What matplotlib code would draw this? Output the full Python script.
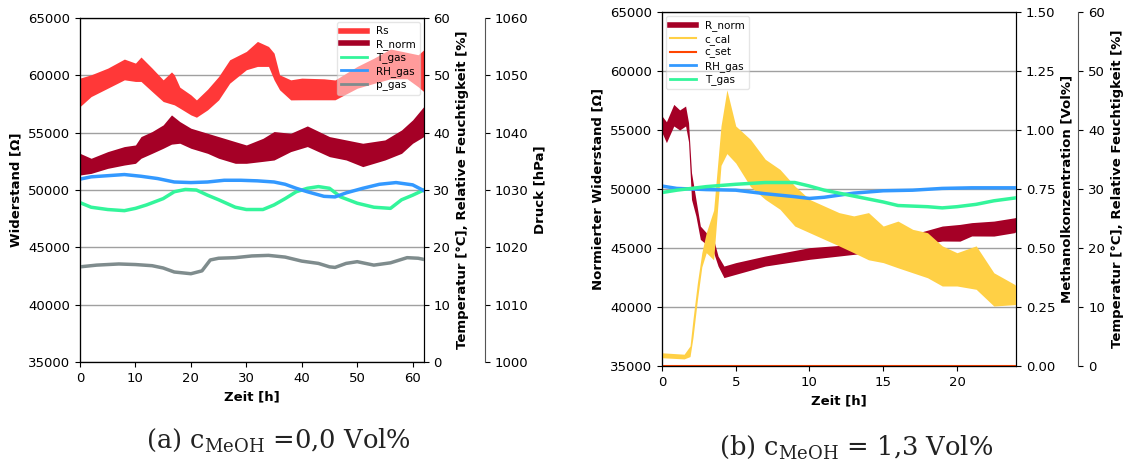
import matplotlib
matplotlib.use("Agg")
import matplotlib.pyplot as plt
from matplotlib.lines import Line2D

# ---- (a) c_MeOH = 0,0 Vol% ----
t_rs = [0, 2, 5, 8, 10, 11, 13, 15, 16.5, 17, 18, 20, 21, 23, 25, 27, 30, 32, 34, 35, 36, 38, 40, 44, 46, 50, 53, 56, 59, 61, 62]
rs_hi = [59760, 60050, 60630, 61420, 61070, 61600, 60630, 59610, 60300, 60050, 58970, 58300, 57860, 58790, 59900, 61360,
         62090, 62960, 62520, 61940, 60050, 59610, 59760, 59700, 59600, 60780, 61500, 62300, 62000, 61800, 62230]
rs_lo = [57280, 58150, 58880, 59610, 59470, 59470, 58590, 57720, 57500, 57430, 57140, 56550, 56350, 56990, 57860, 59320,
         60490, 60780, 60780, 59610, 58740, 57860, 57870, 57870, 57870, 58880, 59300, 59700, 59700, 59000, 58590]

t_rn_a = [0, 2, 5, 8, 10, 11, 13, 15, 16.5, 18, 20, 23, 25, 28, 30, 33, 35, 38, 41, 45, 48, 51, 55, 58, 60, 62]
rn_a_hi = [53200, 52770, 53350, 53790, 53930, 54660, 55100, 55680, 56550, 55970, 55390, 54950, 54660, 54220, 53930,
           54510, 55100, 54950, 55590, 54660, 54370, 54080, 54370, 55240, 56120, 57280]
rn_a_lo = [51310, 51450, 51890, 52180, 52330, 52770, 53200, 53640, 54000, 54080, 53640, 53200, 52770, 52330, 52330,
           52500, 52620, 53350, 53790, 52910, 52620, 52040, 52620, 53200, 54080, 54660]

t_tg_a = [0, 2, 5, 8, 10, 12, 15, 17, 19, 21, 23, 25, 28, 30, 33, 35, 37, 39, 41, 43, 45, 47, 50, 53, 56, 58, 60, 62]
tgas_a = [27.8, 27.0, 26.6, 26.4, 26.8, 27.4, 28.5, 29.7, 30.1, 30.0, 29.1, 28.3, 27.0, 26.6, 26.6, 27.4, 28.5, 29.7,
          30.3, 30.6, 30.3, 28.8, 27.7, 27.0, 26.8, 28.3, 29.1, 30.0]

t_rh_a = [0, 2, 5, 8, 11, 14, 17, 20, 23, 26, 29, 32, 35, 37, 39, 41, 44, 46, 48, 51, 54, 57, 60, 62]
rh_a = [31.9, 32.3, 32.5, 32.7, 32.4, 32.0, 31.4, 31.3, 31.4, 31.7, 31.7, 31.6, 31.4, 31.0, 30.3, 29.7, 28.9, 28.8,
        29.5, 30.3, 31.0, 31.3, 30.9, 29.9]

t_p_a = [0, 3, 7, 10, 13, 15, 17, 20, 22, 23.5, 25, 28, 31, 34, 37, 40, 43, 45, 46, 48, 50, 53, 56, 59, 61, 62]
p_a = [1016.6, 1016.9, 1017.1, 1017.0, 1016.8, 1016.4, 1015.7, 1015.4, 1015.9, 1017.8, 1018.1, 1018.2, 1018.5,
       1018.6, 1018.3, 1017.6, 1017.2, 1016.6, 1016.5, 1017.2, 1017.5, 1016.9, 1017.3, 1018.2, 1018.1, 1017.9]

# ---- (b) c_MeOH = 1,3 Vol% ----
t_rn_b = [0, 0.3, 0.8, 1.2, 1.6, 1.8, 2.0, 2.3, 2.6, 3.0, 3.5, 3.8, 4.2, 5, 7, 10, 13, 15, 17, 19, 20.2, 21, 22.5, 23.9, 24]
rn_b_hi = [56190, 55700, 57170, 56700, 57030, 55620, 51380, 49120, 46860, 46300, 45730, 44320, 43470, 43760, 44320,
           45030, 45310, 45730, 46160, 46860, 47000, 47150, 47280, 47560, 47600]
rn_b_lo = [54780, 53930, 55340, 55000, 55340, 54000, 49120, 47710, 45730, 45310, 44600, 43470, 42490, 42770, 43470,
           44040, 44460, 44750, 45170, 45590, 45580, 46020, 46010, 46300, 46400]

t_c = [0, 1.5, 1.9, 2.1, 2.4, 2.7, 3.0, 3.5, 4.0, 4.4, 5, 6, 7, 8, 9, 10, 11, 12, 13, 14, 15, 16, 17, 18, 19, 20,
       21.3, 22.5, 23.9, 24]
c_hi = [0.056, 0.05, 0.085, 0.198, 0.353, 0.48, 0.565, 0.66, 1.017, 1.17, 1.017, 0.96, 0.876, 0.833, 0.763, 0.706,
        0.678, 0.65, 0.636, 0.65, 0.593, 0.614, 0.579, 0.565, 0.509, 0.48, 0.509, 0.395, 0.346, 0.34]
c_lo = [0.035, 0.03, 0.04, 0.12, 0.28, 0.42, 0.48, 0.45, 0.85, 0.90, 0.86, 0.76, 0.706, 0.664, 0.593, 0.565, 0.537,
        0.509, 0.48, 0.45, 0.438, 0.416, 0.395, 0.374, 0.339, 0.339, 0.325, 0.254, 0.26, 0.26]
t_cset = [0, 24]
c_set = [0.0, 0.0]

t_rh_b = [0, 1, 3, 5, 7, 9, 10, 11, 13, 15, 17, 19, 21, 24]
rh_b = [30.5, 30.1, 29.9, 29.8, 29.2, 28.7, 28.4, 28.6, 29.3, 29.7, 29.8, 30.1, 30.2, 30.2]
t_tg_b = [0, 1, 3, 5, 7, 9, 10, 11, 13, 15, 16, 18, 19, 20, 21.3, 22.5, 24]
tgas_b = [29.4, 29.8, 30.4, 30.8, 31.1, 31.1, 30.5, 29.8, 28.8, 27.8, 27.2, 27.0, 26.8, 27.0, 27.4, 28.0, 28.5]

c_rs = '#ff3838'
c_rn = '#a50026'
c_tg = '#33f59b'
c_rh = '#3399ff'
c_p = '#7f8c8d'
c_cal_col = '#ffd045'
c_set_col = '#ff4500'

plt.rcParams['font.size'] = 9.5
plt.rcParams['mathtext.fontset'] = 'dejavuserif'
lab = dict(fontweight='bold', fontsize=9.5)

fig = plt.figure(figsize=(11.27, 4.65), dpi=100)

# panel a
ax = fig.add_axes([0.071, 0.2215, 0.305, 0.7397])
ax.set_axisbelow(True)
ax.yaxis.grid(True, color='#a0a0a0', lw=1)
ax.fill_between(t_rs, rs_lo, rs_hi, color=c_rs, lw=0)
ax.fill_between(t_rn_a, rn_a_lo, rn_a_hi, color=c_rn, lw=0)
ax.set_xlim(0, 62)
ax.set_ylim(35000, 65000)
ax.set_xticks(range(0, 61, 10))
ax.set_yticks(range(35000, 65001, 5000))
ax.set_xlabel('Zeit [h]', **lab)
ax.set_ylabel('Widerstand [Ω]', **lab)

ax2 = ax.twinx()
ax2.plot(t_tg_a, tgas_a, color=c_tg, lw=2.5)
ax2.plot(t_rh_a, rh_a, color=c_rh, lw=2.5)
ax2.set_ylim(0, 60)
ax2.set_ylabel('Temperatur [°C], Relative Feuchtigkeit [%]', **lab)

ax3 = ax.twinx()
ax3.plot(t_p_a, p_a, color=c_p, lw=2.5)
ax3.set_ylim(1000, 1060)
ax3.spines['right'].set_position(('outward', 44))
ax3.spines['right'].set_color('#555555')
ax3.set_ylabel('Druck [hPa]', **lab)

handles_a = [Line2D([], [], color=c_rs, lw=4, label='Rs'),
             Line2D([], [], color=c_rn, lw=4, label='R_norm'),
             Line2D([], [], color=c_tg, lw=2, label='T_gas'),
             Line2D([], [], color=c_rh, lw=2, label='RH_gas'),
             Line2D([], [], color=c_p, lw=2, label='p_gas')]
ax3.legend(handles=handles_a, loc='upper right', fontsize=7.5, framealpha=0.5,
           handlelength=2.5, labelspacing=0.25, borderaxespad=0.4)

# panel b
bx = fig.add_axes([0.5874, 0.2129, 0.3141, 0.7613])
bx.set_axisbelow(True)
bx.yaxis.grid(True, color='#a0a0a0', lw=1)
bx.fill_between(t_rn_b, rn_b_lo, rn_b_hi, color=c_rn, lw=0)
bx.set_xlim(0, 24)
bx.set_ylim(35000, 65000)
bx.set_xticks(range(0, 21, 5))
bx.set_yticks(range(35000, 65001, 5000))
bx.set_xlabel('Zeit [h]', **lab)
bx.set_ylabel('Normierter Widerstand [Ω]', **lab)

bx2 = bx.twinx()
bx2.fill_between(t_c, c_lo, c_hi, color=c_cal_col, lw=0)
bx2.plot(t_cset, c_set, color=c_set_col, lw=1.5)
bx2.set_ylim(0, 1.5)
bx2.set_yticks([0, 0.25, 0.5, 0.75, 1.0, 1.25, 1.5])
bx2.set_yticklabels(['0.00', '0.25', '0.50', '0.75', '1.00', '1.25', '1.50'])
bx2.set_ylabel('Methanolkonzentration [Vol%]', **lab)

bx3 = bx.twinx()
bx3.plot(t_rh_b, rh_b, color=c_rh, lw=2.5)
bx3.plot(t_tg_b, tgas_b, color=c_tg, lw=2.5)
bx3.set_ylim(0, 60)
bx3.spines['right'].set_position(('outward', 45))
bx3.spines['right'].set_color('#555555')
bx3.set_ylabel('Temperatur [°C], Relative Feuchtigkeit [%]', **lab)

handles_b = [Line2D([], [], color=c_rn, lw=4, label='R_norm'),
             Line2D([], [], color=c_cal_col, lw=1.5, label='c_cal'),
             Line2D([], [], color=c_set_col, lw=1.5, label='c_set'),
             Line2D([], [], color=c_rh, lw=2, label='RH_gas'),
             Line2D([], [], color=c_tg, lw=2, label='T_gas')]
bx3.legend(handles=handles_b, loc='upper left', fontsize=7.5, framealpha=0.5,
           handlelength=2.5, labelspacing=0.25, borderaxespad=0.4)

# captions
fig.text(278 / 1127, 1 - 440 / 465, r'(a) $\mathrm{c}_{\mathrm{MeOH}}$ =0,0 Vol%', ha='center', va='center',
         family='DejaVu Serif', fontsize=18.5, color='#222222')
fig.text(856 / 1127, 1 - 447 / 465, r'(b) $\mathrm{c}_{\mathrm{MeOH}}$ = 1,3 Vol%', ha='center', va='center',
         family='DejaVu Serif', fontsize=18.5, color='#222222')

fig.savefig('out.png', dpi=100)
